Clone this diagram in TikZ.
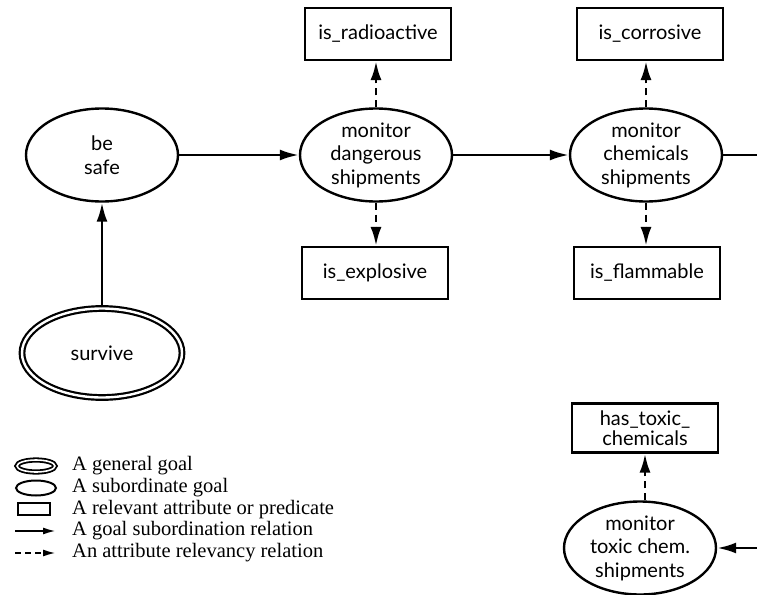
\documentclass[tikz,border=0pt]{standalone}
\usepackage{fontspec}
\setmainfont{Lato}
\newfontfamily\legendfont{Liberation Serif}
\usetikzlibrary{shapes.geometric,arrows.meta}
\begin{document}
\begin{tikzpicture}[x=1pt,y=-1pt,
  nodefont/.style={font=\fontsize{20}{23.5}\selectfont},
  goal/.style={ellipse,draw,line width=2.4pt,inner sep=0pt,align=center,
    minimum width=152pt,minimum height=93pt,nodefont},
  topgoal/.style={ellipse,draw,line width=2.2pt,double,double distance=2.4pt,
    inner sep=0pt,align=center,minimum width=160pt,minimum height=89pt,nodefont},
  attr/.style={rectangle,draw,line width=2.2pt,inner sep=0pt,align=center,
    minimum width=146pt,minimum height=52pt,nodefont},
  tip/.style={-{Latex[length=19pt,width=11pt]}},
  subrel/.style={line width=2.6pt,tip},
  attrrel/.style={line width=2.8pt,dash pattern=on 7pt off 5pt,tip},
  legtext/.style={anchor=west,inner sep=0pt,font=\legendfont\fontsize{20.5}{22}\selectfont},
]
\useasboundingbox (0,0) rectangle (757,594);

% goals
\node[goal] (safe) at (102,155) {be\\safe};
\node[topgoal] (survive) at (102,353) {survive};
\node[goal] (danger) at (376,155) {monitor\\dangerous\\shipments};
\node[goal] (chem) at (646,155) {monitor\\chemicals\\shipments};
\node[goal] (toxic) at (640,548) {monitor\\toxic chem.\\shipments};

% attributes
\node[attr] (radio) at (378,34) {is\_radioactive};
\node[attr] (explo) at (375,273) {is\_explosive};
\node[attr] (corr) at (650,34) {is\_corrosive};
\node[attr] (flam) at (647,273) {is\_flammable};
\node[attr,minimum height=49pt] (hastox) at (645,428) {has\_toxic\_\\[-3pt]chemicals};

% goal subordination
\draw[subrel] (survive.north) -- (safe.south);
\draw[subrel] (safe.east) -- (danger.west);
\draw[subrel] (danger.east) -- (chem.west);
\coordinate (chemout) at (757,155);
\draw[line width=2.6pt] (chem.east) -- (chemout);
\coordinate (toxicin) at (757,548);
\draw[subrel] (toxicin) -- (toxic.east);

% attribute relevancy
\draw[attrrel] (danger.north) -- (danger.north |- radio.south);
\draw[attrrel] (danger.south) -- (danger.south |- explo.north);
\draw[attrrel] (chem.north) -- (chem.north |- corr.south);
\draw[attrrel] (chem.south) -- (chem.south |- flam.north);
\draw[attrrel] (hastox.south |- toxic.north) -- (hastox.south);

% legend
\node[ellipse,draw,line width=1.8pt,double,double distance=1.6pt,minimum width=38pt,minimum height=12pt,inner sep=0pt] (lgen) at (36,466) {};
\node[ellipse,draw,line width=2pt,minimum width=40pt,minimum height=15pt,inner sep=0pt] (lsub) at (36,488) {};
\node[rectangle,draw,line width=2pt,minimum width=32pt,minimum height=12pt,inner sep=0pt] (lrect) at (34,509) {};
\coordinate (lsubA) at (15,531);
\coordinate (lsubB) at (56,531);
\draw[line width=2pt,-{Latex[length=13pt,width=7pt]}] (lsubA) -- (lsubB);
\coordinate (lattA) at (15,553);
\coordinate (lattB) at (56,553);
\draw[line width=2pt,dash pattern=on 6pt off 4pt,-{Latex[length=13pt,width=7pt]}] (lattA) -- (lattB);

\node[legtext] (tgen) at (72,466) {A general goal};
\node[legtext] (tsub) at (72,488) {A subordinate goal};
\node[legtext] (trect) at (72,510) {A relevant attribute or predicate};
\node[legtext] (tsrel) at (72,531) {A goal subordination relation};
\node[legtext] (tarel) at (72,553) {An attribute relevancy relation};
\end{tikzpicture}
\end{document}
